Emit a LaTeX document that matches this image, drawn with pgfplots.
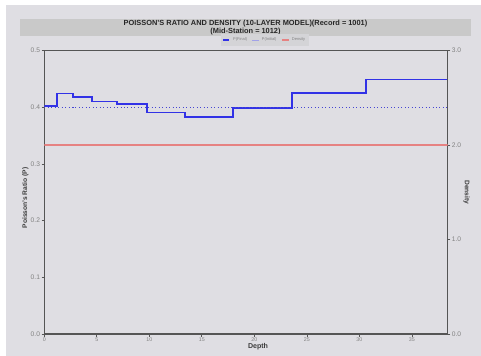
\documentclass[border=0pt]{standalone}
\usepackage{fontspec}
\setmainfont{Liberation Sans}
\usepackage{pgfplots}
\pgfplotsset{compat=1.18}
\definecolor{panel}{RGB}{223,222,227}
\definecolor{band}{RGB}{201,201,201}
\definecolor{axisgray}{RGB}{85,85,85}
\definecolor{tickgray}{RGB}{130,130,130}
\definecolor{labgray}{RGB}{60,60,60}
\definecolor{pfinal}{RGB}{50,50,230}
\definecolor{pinit}{RGB}{70,70,210}
\definecolor{dens}{RGB}{230,130,130}
\definecolor{legfill}{RGB}{212,212,215}
\begin{document}
\begin{tikzpicture}[x=0.75pt,y=0.75pt]
\useasboundingbox (0,0) rectangle (481,356);
\fill[white] (0,0) rectangle (481,356);
\fill[panel] (6,0) rectangle (481,351);
\fill[band] (20,320) rectangle (471,337);
\node[align=center,font=\fontsize{5.55}{6.3}\selectfont\bfseries,text=black!85,inner sep=0pt] at (245.5,328.5)
  {POISSON'S RATIO AND DENSITY (10-LAYER MODEL)(Record = 1001)\\(Mid-Station = 1012)};
\begin{axis}[
  at={(33.2pt,16.5pt)}, anchor=south west,
  scale only axis, width=302.5pt, height=212.5pt,
  xmin=0, xmax=38.4, ymin=0, ymax=0.5,
  xtick={0,5,...,35}, ytick={0,0.1,...,0.5},
  xtick pos=bottom, ytick pos=left,
  tick align=outside, major tick length=2pt,
  every tick/.style={axisgray,line width=0.5pt},
  axis line style={axisgray,line width=1pt},
  /pgf/number format/assume math mode=true,
  yticklabel style={/pgf/number format/.cd,fixed,precision=1,zerofill,/tikz/.cd,font=\fontsize{5}{5}\selectfont,text=tickgray,inner sep=1pt},
  xticklabel style={font=\fontsize{4}{4}\selectfont,text=tickgray,inner sep=1pt},
  ylabel={Poisson's Ratio (P)},
  ylabel style={at={(axis description cs:-0.047,0.48)},anchor=center,font=\fontsize{5}{6}\selectfont\bfseries,text=labgray},
  xlabel={Depth},
  xlabel style={at={(axis description cs:0.53,-0.046)},anchor=center,font=\fontsize{5.3}{6}\selectfont\bfseries,text=labgray},
  legend columns=3,
  legend style={at={(axis description cs:0.547,1.015)},anchor=south,fill=legfill,draw=none,
    font=\fontsize{3}{3.5}\selectfont,text=tickgray,inner sep=0.8pt,
    /tikz/every even column/.append style={column sep=1.5pt}},
  legend image code/.code={\draw[#1,solid] (0pt,0pt) -- (5pt,0pt);},
]
\addplot[const plot mark left, color=pfinal, line width=1.4pt] coordinates {
 (0,0.403) (1.24,0.4245) (2.7,0.4175) (4.54,0.4104) (6.9,0.4056)
 (9.81,0.391) (13.4,0.3827) (17.94,0.3991) (23.6,0.4256) (30.67,0.4492) (38.4,0.4492)};
\addlegendentry{P(Final)}
\addplot[const plot mark left, color=pinit, line width=0.6pt, dotted, legend image post style={color=pinit!50}] coordinates {
 (0,0.4) (1.24,0.4) (2.7,0.4) (4.54,0.4) (6.9,0.4)
 (9.81,0.4) (13.4,0.4) (17.94,0.4) (23.6,0.4) (30.67,0.4) (38.4,0.4)};
\addlegendentry{P(Initial)}
\addlegendimage{color=dens,line width=1pt}
\addlegendentry{Density}
\end{axis}
\begin{axis}[
  at={(33.2pt,16.5pt)}, anchor=south west,
  scale only axis, width=302.5pt, height=212.5pt,
  xmin=0, xmax=38.4, ymin=0, ymax=3,
  axis x line=none, axis y line*=right,
  ytick={0,1,2,3},
  tick align=outside, major tick length=2pt,
  every tick/.style={axisgray,line width=0.5pt},
  axis line style={axisgray,line width=1pt},
  /pgf/number format/assume math mode=true,
  yticklabel style={/pgf/number format/.cd,fixed,precision=1,zerofill,/tikz/.cd,font=\fontsize{5}{5}\selectfont,text=tickgray,inner sep=1pt},
  ylabel={Density},
  ylabel style={at={(axis description cs:1.047,0.5)},anchor=center,rotate=180,font=\fontsize{5}{6}\selectfont\bfseries,text=labgray},
]
\addplot[const plot mark left, color=dens, line width=1.4pt] coordinates {
 (0,2) (1.24,2) (2.7,2) (4.54,2) (6.9,2)
 (9.81,2) (13.4,2) (17.94,2) (23.6,2) (30.67,2) (38.4,2)};
\end{axis}
\end{tikzpicture}
\end{document}
